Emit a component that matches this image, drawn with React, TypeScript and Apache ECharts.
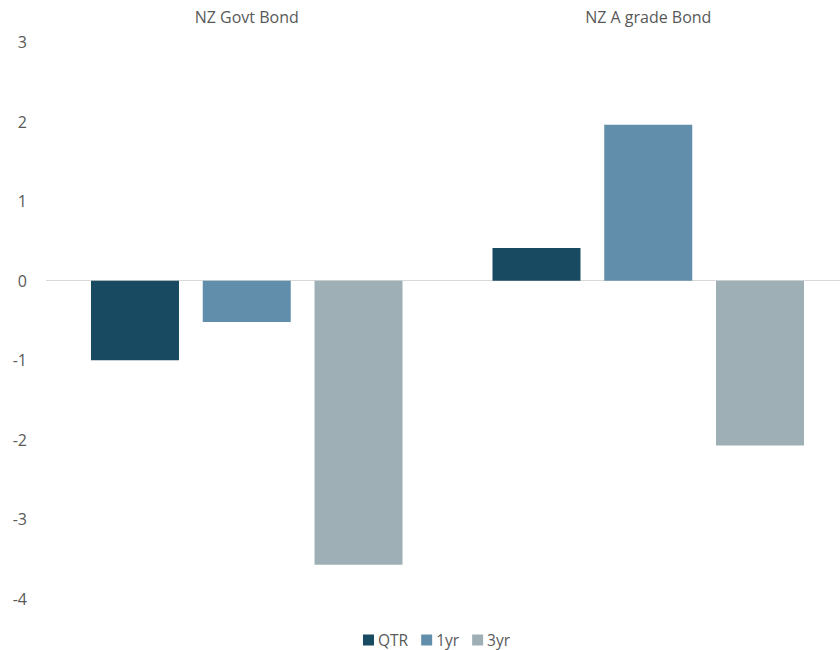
import React, { useEffect, useRef } from "react";
import * as echarts from "echarts";

const categories = ["NZ Govt Bond", "NZ A grade Bond"];
const qtr = [-1.0, 0.41];
const oneYear = [-0.52, 1.96];
const threeYear = [-3.57, -2.07];
const seriesNames = ["QTR", "1yr", "3yr"];
const colors = ["#184A62", "#618FAB", "#9EB0B5"];

const FONT = "Open Sans";
const TEXT = "#595959";

export default function App() {
  const ref = useRef<HTMLDivElement>(null);

  useEffect(() => {
    if (!ref.current) return;
    const chart = echarts.init(ref.current, undefined, { renderer: "svg" });
    const values = [qtr, oneYear, threeYear];
    chart.setOption({
      animation: false,
      textStyle: { fontFamily: FONT },
      grid: { left: 46, right: 0, top: 42, bottom: 51 },
      legend: {
        top: 627,
        left: 358,
        itemWidth: 11,
        itemHeight: 11,
        itemGap: 13,
        icon: "rect",
        textStyle: { color: TEXT, fontSize: 15.5, fontFamily: FONT, padding: [0, 0, 0, -1] },
        data: seriesNames,
      },
      xAxis: {
        type: "category",
        data: categories,
        position: "top",
        axisLine: { show: false },
        axisTick: { show: false },
        axisLabel: { color: TEXT, fontSize: 16, margin: 17, fontFamily: FONT },
      },
      yAxis: {
        type: "value",
        min: -4,
        max: 3,
        interval: 1,
        splitLine: { show: false },
        axisLine: { show: false },
        axisTick: { show: false },
        axisLabel: { color: TEXT, fontSize: 16, margin: 19, fontFamily: FONT },
      },
      series: seriesNames.map((name, i) => ({
        name,
        type: "bar",
        data: values[i],
        barWidth: 88,
        barGap: "27%",
        itemStyle: { color: colors[i] },
        z: 3,
        // baseline drawn once, under the bars
        markLine:
          i === 0
            ? {
                silent: true,
                symbol: "none",
                label: { show: false },
                lineStyle: { color: "#D9D9D9", width: 1, type: "solid" },
                data: [{ yAxis: 0 }],
                z: 1,
              }
            : undefined,
      })),
    });
    return () => chart.dispose();
  }, []);

  return (
    <div
      style={{ position: "fixed", left: 0, top: 0, width: 840, height: 650, overflow: "hidden", background: "#fff" }}
    >
      <div ref={ref} style={{ width: 849, height: 650 }} />
    </div>
  );
}
